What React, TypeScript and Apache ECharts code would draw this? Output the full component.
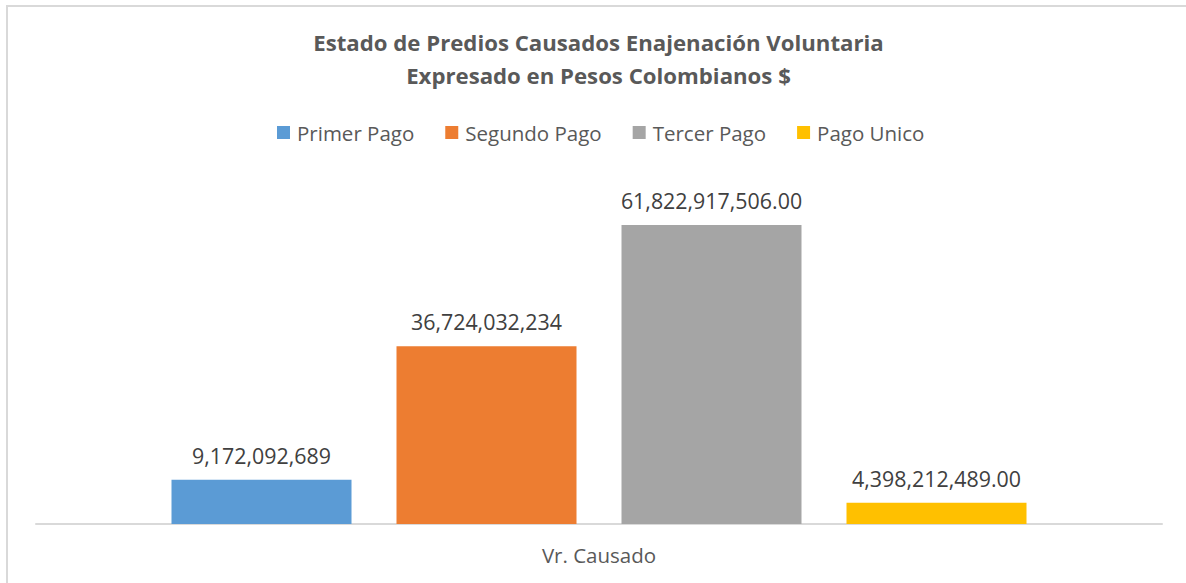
import React, { useEffect, useRef } from 'react';
import * as echarts from 'echarts';

const categories = ['Vr. Causado'];
const seriesNames = ['Primer Pago', 'Segundo Pago', 'Tercer Pago', 'Pago Unico'];
const seriesValues = [9172092689, 36724032234, 61822917506.0, 4398212489.0];
const labelDecimals = [0, 0, 2, 2];
const seriesColors = ['#5B9BD5', '#ED7D31', '#A5A5A5', '#FFC000'];
const titleLines = ['Estado de Predios Causados Enajenación Voluntaria', 'Expresado en Pesos Colombianos $'];
const yMax = 70000000000;

const FAMILY = '"Open Sans"';

function fitSize(text: string, weight: string, target: number): number {
  const c = document.createElement('canvas');
  const ctx = c.getContext('2d') as CanvasRenderingContext2D;
  ctx.font = `${weight} 100px ${FAMILY}`;
  const w = ctx.measureText(text).width;
  return Math.round((1000 * target) / w) / 10;
}

function fmt(v: number, d: number): string {
  return v.toLocaleString('en-US', { minimumFractionDigits: d, maximumFractionDigits: d });
}

export default function App() {
  const ref = useRef<HTMLDivElement>(null);
  useEffect(() => {
    document.documentElement.style.overflow = 'hidden';
    const chart = echarts.init(ref.current as HTMLDivElement, null, { renderer: 'svg' });
    const titleSize = fitSize(titleLines[0], 'bold', 571);
    const legendSize = fitSize(seriesNames[0], 'normal', 117);
    const labelSize = fitSize(fmt(seriesValues[2], labelDecimals[2]), 'normal', 181);
    const axisSize = fitSize(categories[0], 'normal', 114);
    chart.setOption({
      animation: false,
      textStyle: { fontFamily: FAMILY },
      title: {
        text: titleLines.join('\n'),
        left: 598.5,
        textAlign: 'center',
        top: 26,
        padding: 0,
        textStyle: {
          fontFamily: FAMILY,
          fontWeight: 'bold',
          fontSize: titleSize,
          lineHeight: 33,
          color: '#595959',
        },
      },
      legend: {
        data: seriesNames,
        left: 277,
        top: 122,
        padding: 0,
        icon: 'rect',
        itemWidth: 13,
        itemHeight: 13,
        itemGap: 31,
        textStyle: {
          fontFamily: FAMILY,
          fontSize: legendSize,
          lineHeight: 20,
          color: '#595959',
          padding: [0, 0, 0, 2],
        },
      },
      grid: { left: 36, right: 24, top: 185.4, bottom: 59, containLabel: false },
      xAxis: {
        type: 'category',
        data: categories,
        offset: 1,
        axisTick: { show: false },
        axisLine: { lineStyle: { color: '#D9D9D9', width: 2 } },
        axisLabel: { fontFamily: FAMILY, fontSize: axisSize, color: '#595959', margin: 19 },
      },
      yAxis: {
        type: 'value',
        min: 0,
        max: yMax,
        show: false,
        splitLine: { show: false },
      },
      graphic: [
        {
          type: 'polyline',
          shape: { points: [[7, 600], [7, 6], [1200, 6]] },
          style: { fill: 'none', stroke: '#D9D9D9', lineWidth: 2 },
          silent: true,
        },
      ],
      series: seriesNames.map((name, i) => ({
        name,
        type: 'bar',
        data: [seriesValues[i]],
        barWidth: 180,
        barGap: '25%',
        itemStyle: { color: seriesColors[i] },
        label: {
          show: true,
          position: 'top',
          distance: 14,
          fontFamily: FAMILY,
          fontSize: labelSize,
          color: '#404040',
          formatter: () => fmt(seriesValues[i], labelDecimals[i]),
        },
      })),
    });
    return () => chart.dispose();
  }, []);
  return (
    <div
      ref={ref}
      style={{ position: 'fixed', left: 0, top: 0, width: 1186, height: 583, background: '#fff' }}
    />
  );
}
